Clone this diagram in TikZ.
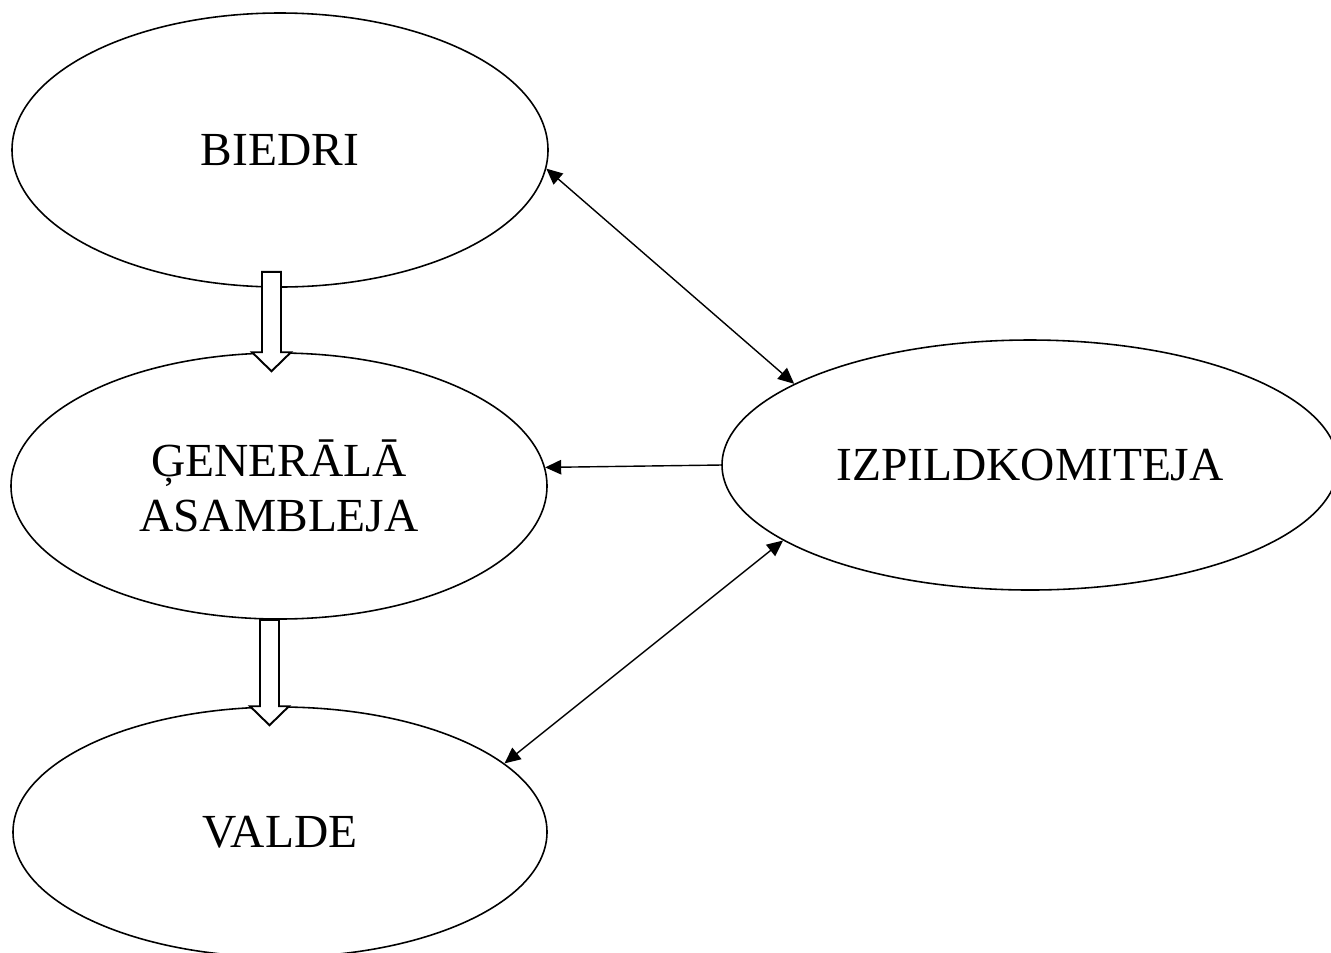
\documentclass[tikz,border=0pt]{standalone}
\usepackage{fontspec}
\setmainfont{Liberation Serif}
\usetikzlibrary{shapes.geometric,arrows.meta,calc}

\tikzset{
	body/.style={draw, ellipse, line width=0.9pt, inner sep=0pt, align=center,
		font=\fontsize{27}{31.3}\selectfont},
	link/.style={line width=0.8pt},
	hollow/.style={draw, fill=white, line width=1.1pt}
}

\begin{document}
\begin{tikzpicture}[>={Triangle[length=0.32cm,width=0.29cm]}]
\useasboundingbox (0,0) rectangle (26.62,-19.04);

\node[body, minimum width=10.72cm, minimum height=5.48cm] (biedri) at (5.6,-3.0) {BIEDRI};
\node[body, minimum width=10.72cm, minimum height=5.32cm] (asambleja) at (5.58,-9.72) {ĢENERĀLĀ\\ASAMBLEJA};
\node[body, minimum width=10.68cm, minimum height=5.0cm] (valde) at (5.6,-16.64) {VALDE};
\node[body, minimum width=12.32cm, minimum height=5.0cm] (izpild) at (20.6,-9.3) {IZPILDKOMITEJA};

% hollow arrows down the left column
\foreach \from/\to/\dx/\up in {biedri/asambleja/-0.17/0.32, asambleja/valde/-0.19/0} {
	\draw[hollow] let \p1=($(\from.south)+(\dx,\up)$), \p2=(\to.north) in
		(\x1-0.19cm,\y1) -- (\x1+0.19cm,\y1) -- (\x1+0.19cm,\y2) -- (\x1+0.39cm,\y2)
		-- (\x1,\y2-0.38cm) -- (\x1-0.39cm,\y2) -- (\x1-0.19cm,\y2) -- cycle;
}

\draw[link][<->] (biedri.-4) -- (izpild.161);
\draw[link][->] (izpild.west) -- (asambleja.4);
\draw[link][<->] (izpild.197) -- (valde.17);
\end{tikzpicture}
\end{document}
